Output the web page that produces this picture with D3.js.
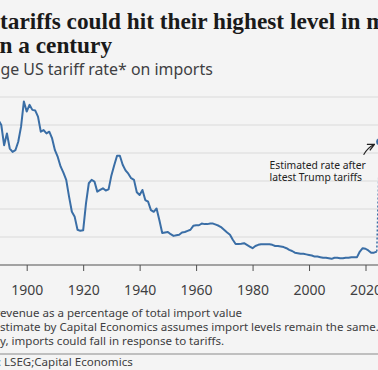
<!DOCTYPE html>
<html>
<head>
<meta charset="utf-8">
<script src="https://cdn.jsdelivr.net/npm/d3@7"></script>
<style>
  body { margin: 0; background: #f4f4f4; }
  svg { display: block; }
</style>
</head>
<body>
<div id="chart"></div>
<script>
// average US tariff rate (%)
const years = [1890, 1891, 1892, 1893, 1894, 1895, 1896, 1897, 1898, 1899,
  1900, 1901, 1902, 1903, 1904, 1905, 1906, 1907, 1908, 1909,
  1910, 1911, 1912, 1913, 1914, 1915, 1916, 1917, 1918, 1919,
  1920, 1921, 1922, 1923, 1924, 1925, 1926, 1927, 1928, 1929,
  1930, 1931, 1932, 1933, 1934, 1935, 1936, 1937, 1938, 1939,
  1940, 1941, 1942, 1943, 1944, 1945, 1946, 1947, 1948, 1949,
  1950, 1951, 1952, 1953, 1954, 1955, 1956, 1957, 1958, 1959,
  1960, 1961, 1962, 1963, 1964, 1965, 1966, 1967, 1968, 1969,
  1970, 1971, 1972, 1973, 1974, 1975, 1976, 1977, 1978, 1979,
  1980, 1981, 1982, 1983, 1984, 1985, 1986, 1987, 1988, 1989,
  1990, 1991, 1992, 1993, 1994, 1995, 1996, 1997, 1998, 1999,
  2000, 2001, 2002, 2003, 2004, 2005, 2006, 2007, 2008, 2009,
  2010, 2011, 2012, 2013, 2014, 2015, 2016, 2017, 2018, 2019,
  2020, 2021, 2022, 2023, 2024];
const rates = [25.9, 25.0, 21.4, 23.5, 20.8, 20.2, 20.5, 22.0, 24.7, 29.2,
  27.4, 28.6, 27.7, 27.6, 26.5, 23.8, 24.1, 23.5, 23.8, 22.6,
  20.5, 19.3, 17.6, 16.5, 15.2, 12.2, 9.5, 8.6, 6.3, 6.1,
  6.2, 11.0, 14.6, 15.2, 14.9, 13.1, 13.4, 13.7, 13.3, 13.5,
  16.0, 17.8, 19.5, 19.5, 17.9, 16.9, 16.3, 15.5, 15.2, 13.0,
  12.5, 13.4, 11.6, 11.3, 9.8, 9.5, 10.1, 8.0, 5.7, 5.8,
  5.9, 5.5, 5.2, 5.3, 5.4, 5.8, 5.9, 6.1, 6.3, 7.0,
  7.1, 7.1, 7.4, 7.3, 7.3, 7.4, 7.4, 7.2, 7.0, 6.7,
  6.25, 5.8, 5.4, 4.5, 3.75, 3.75, 3.8, 3.9, 3.6, 3.3,
  3.0, 3.4, 3.6, 3.7, 3.7, 3.7, 3.7, 3.6, 3.4, 3.4,
  3.3, 3.2, 3.0, 2.7, 2.5, 2.2, 2.1, 2.0, 2.0, 1.9,
  1.8, 1.7, 1.5, 1.5, 1.4, 1.3, 1.3, 1.2, 1.1, 1.3,
  1.3, 1.2, 1.2, 1.3, 1.3, 1.4, 1.4, 1.4, 2.4, 3.0,
  2.9, 2.6, 2.2, 2.2, 2.4];
const estimateYear = 2025;
const estimateRate = 22.0;

const xTicks = [1900, 1920, 1940, 1960, 1980, 2000, 2020];
const yTicks = [5, 10, 15, 20, 25, 30];

const titleLines = ["US tariffs could hit their highest level in more", "than a century"];
const subtitle = "Average US tariff rate* on imports";
const notes = ["*Customs revenue as a percentage of total import value",
  "Note: Estimate by Capital Economics assumes import levels remain the same.",
  "In reality, imports could fall in response to tariffs."];
const source = "Source: LSEG;Capital Economics";
const annotation = ["Estimated rate after", "latest Trump tariffs"];

const width = 378;
const height = 370;
const blue = "#3a6ea6";

const svg = d3.select("#chart").append("svg")
  .attr("width", width)
  .attr("height", height);

svg.append("rect").attr("width", width).attr("height", height).attr("fill", "#f4f4f4");

const x = d3.scaleLinear().domain([1900, 2020]).range([26.7, 365.5]);
const y = d3.scaleLinear().domain([0, 30]).range([265, 97]);

/**
 * Write str so that the part from char `cut` starts at x0.
 * If `end` is given, resize the font so chars cut..end span `span` px.
 */
function placeText (g, str, cut, x0, yy, size, end, span) {
  const t = g.append("text").attr("y", yy).attr("font-size", size).text(str);
  if (end) {
    const w = t.node().getSubStringLength(cut, end - cut);
    size = size * span / w;
    t.attr("font-size", size);
  }
  const pre = cut ? t.node().getSubStringLength(0, cut) : 0;
  t.attr("x", x0 - pre);
  return size;
}

// titles
const head = svg.append("g")
  .attr("font-family", "'Liberation Serif', serif")
  .attr("font-weight", "bold")
  .attr("fill", "#1a1a1a");
const tSize = placeText(head, titleLines[0], 3, 0, 29, 21, titleLines[0].indexOf("more"), 366.5);
placeText(head, titleLines[1], 3, -0.5, 53, tSize);

const sub = svg.append("g")
  .attr("font-family", "'Noto Sans', sans-serif")
  .attr("fill", "#3f3f42");
placeText(sub, subtitle, 5, 0.5, 75, 14, subtitle.length, 212.5);

// gridlines
svg.append("g").selectAll("line")
  .data(yTicks)
  .join("line")
    .attr("x1", 0).attr("x2", width)
    .attr("y1", d => y(d)).attr("y2", d => y(d))
    .attr("stroke", "#dadada")
    .attr("stroke-width", 1);

// x axis
const xAxis = svg.append("g")
  .attr("transform", `translate(0,${y(0)})`)
  .call(d3.axisBottom(x).tickValues(xTicks).tickFormat(d3.format("d")).tickSize(6).tickSizeOuter(0));
xAxis.select(".domain").remove();
xAxis.selectAll(".tick line").attr("stroke", "#505050");
xAxis.selectAll(".tick text")
  .attr("font-family", "'Noto Sans', sans-serif")
  .attr("font-size", 14)
  .attr("fill", "#3f3f42")
  .attr("dy", "1.5em");
svg.append("line")
  .attr("x1", 0).attr("x2", width)
  .attr("y1", y(0)).attr("y2", y(0))
  .attr("stroke", "#505050")
  .attr("stroke-width", 1.2);

// series
const data = years.map((d, i) => ({year: d, rate: rates[i]}));
const line = d3.line().x(d => x(d.year)).y(d => y(d.rate));

svg.append("path")
  .datum(data)
  .attr("fill", "none")
  .attr("stroke", blue)
  .attr("stroke-width", 2)
  .attr("stroke-linejoin", "round")
  .attr("d", line);

const last = data[data.length - 1];
svg.append("line")
  .attr("x1", x(last.year)).attr("y1", y(last.rate))
  .attr("x2", x(estimateYear)).attr("y2", y(estimateRate))
  .attr("stroke", blue)
  .attr("stroke-width", 1.5)
  .attr("stroke-dasharray", "2,2");

svg.append("circle")
  .attr("cx", x(estimateYear))
  .attr("cy", y(estimateRate))
  .attr("r", 3.5)
  .attr("fill", blue);

// annotation
svg.append("defs").append("marker")
  .attr("id", "head")
  .attr("viewBox", "0 0 10 10")
  .attr("refX", 8).attr("refY", 5)
  .attr("markerWidth", 7).attr("markerHeight", 7)
  .attr("orient", "auto")
  .append("path")
    .attr("d", "M1,1 L9,5 L1,9")
    .attr("fill", "none")
    .attr("stroke", "#222")
    .attr("stroke-width", 1.6);

const ex = x(estimateYear), ey = y(estimateRate);
svg.append("path")
  .attr("d", `M${ex - 16},${ey + 13} Q${ex - 12},${ey + 6} ${ex - 6},${ey + 3}`)
  .attr("fill", "none")
  .attr("stroke", "#222")
  .attr("stroke-width", 1.2)
  .attr("marker-end", "url(#head)");

const ann = svg.append("g")
  .attr("font-family", "'Noto Sans', sans-serif")
  .attr("fill", "#222");
const aSize = placeText(ann, annotation[0], 0, 269.5, 169, 11.5, annotation[0].length, 96.5);
placeText(ann, annotation[1], 0, 269.5, 180.5, aSize);

// notes and source
const foot = svg.append("g")
  .attr("font-family", "'Noto Sans', sans-serif")
  .attr("fill", "#3f3f42");
const n2cut = notes[1].indexOf("stimate");
const nSize = placeText(foot, notes[1], n2cut, 0, 331, 12.5, notes[1].indexOf("same") + 4, 376.5);
placeText(foot, notes[0], notes[0].indexOf("evenue"), 0, 317, nSize);
placeText(foot, notes[2], notes[2].indexOf("y, imp"), 0, 345, nSize);

svg.append("line")
  .attr("x1", 0).attr("x2", width)
  .attr("y1", 354).attr("y2", 354)
  .attr("stroke", "#8a8a8a")
  .attr("stroke-width", 1);

placeText(foot, source, source.indexOf("LSEG"), 4, 366, nSize);
</script>
</body>
</html>
